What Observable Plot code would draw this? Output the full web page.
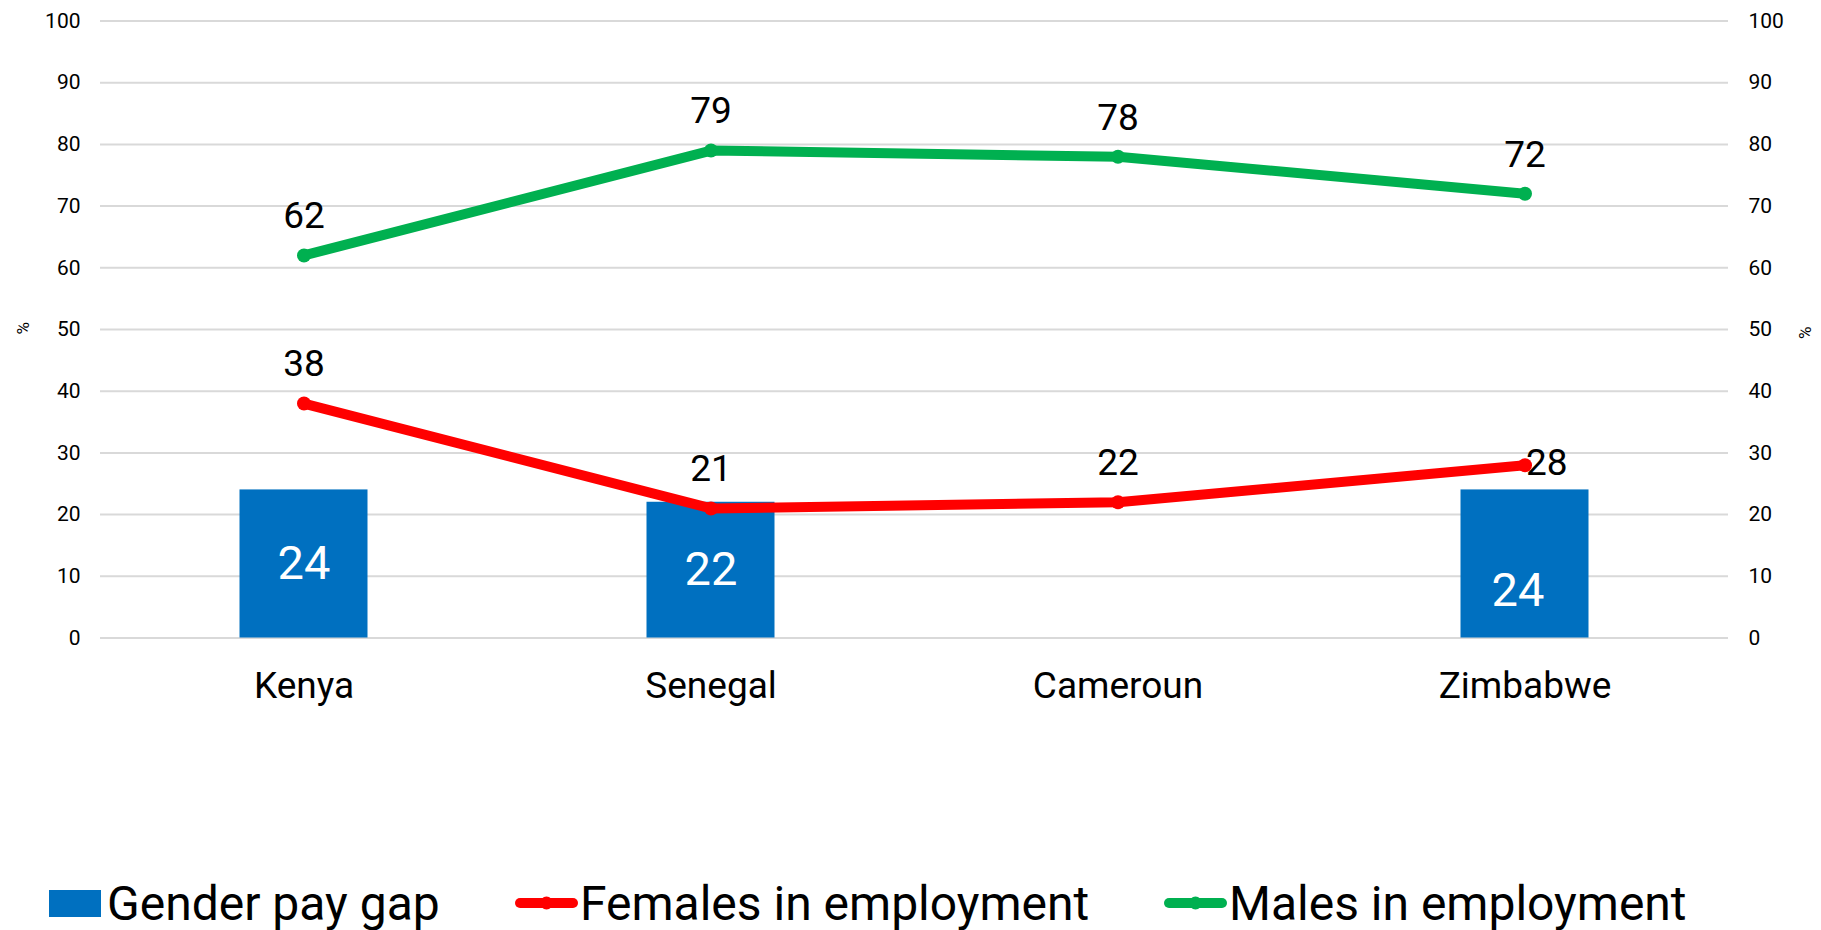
<!DOCTYPE html>
<html><head><meta charset="utf-8">
<script src="https://cdn.jsdelivr.net/npm/d3@7"></script>
<script src="https://cdn.jsdelivr.net/npm/@observablehq/plot@0.6"></script>
<style>
html,body{margin:0;padding:0;background:#fff;overflow:hidden;}
body{width:1821px;height:930px;font-family:Roboto,sans-serif;}
#chart svg{display:block;}
#legend{position:relative;height:80px;width:1821px;}
.item{position:absolute;top:26px;height:54px;display:flex;align-items:center;font-size:48px;color:#000;white-space:nowrap;}
</style></head><body>
<div id="chart"></div>
<div id="legend"></div>
<script>
const countries = ["Kenya", "Senegal", "Cameroun", "Zimbabwe"];
const payGap = [24, 22, null, 24];
const females = [38, 21, 22, 28];
const males = [62, 79, 78, 72];
const yTicks = [0, 10, 20, 30, 40, 50, 60, 70, 80, 90, 100];
const seriesNames = ["Gender pay gap", "Females in employment", "Males in employment"];
const seriesColors = ["#0070C0", "#FF0000", "#00B050"];
const axisTitle = "%";

const rows = countries.map((c, i) => ({country: c, gap: payGap[i], female: females[i], male: males[i]}));
const barRows = rows.filter(d => d.gap != null);
const lastCountry = countries[countries.length - 1];

const W = 1821, H = 850;
const chart = Plot.plot({
  width: W, height: H,
  marginLeft: 100, marginRight: 93, marginTop: 20.5, marginBottom: 212.5,
  style: {fontFamily: "Roboto, sans-serif", color: "#000", background: "#fff"},
  x: {type: "band", domain: countries, padding: 0},
  y: {domain: [0, 100]},
  marks: [
    Plot.ruleY(yTicks, {stroke: "#d9d9d9", strokeWidth: 2}),
    Plot.axisY({anchor: "left", ticks: yTicks, tickSize: 0, tickPadding: 20, fontSize: 21, label: null}),
    Plot.axisY({anchor: "right", ticks: yTicks, tickSize: 0, tickPadding: 20, fontSize: 21, label: null}),
    Plot.text([axisTitle], {frameAnchor: "left", dx: -77, dy: 5, rotate: -90, fontSize: 17, fill: "#000"}),
    Plot.text([axisTitle], {frameAnchor: "right", dx: 77, dy: -3, rotate: -90, fontSize: 17, fill: "#000"}),
    Plot.axisX({tickSize: 0, tickPadding: 34, fontSize: 37, label: null}),
    Plot.barY(barRows, {x: "country", y: "gap", fill: seriesColors[0], insetLeft: 139.5, insetRight: 139.5}),
    Plot.text(barRows.filter(d => d.country !== lastCountry), {x: "country", y: d => d.gap / 2, text: d => String(d.gap), fill: "#fff", fontSize: 47}),
    Plot.text(barRows.filter(d => d.country === lastCountry), {x: "country", y: d => d.gap / 2, text: d => String(d.gap), fill: "#fff", fontSize: 47, dx: -7, dy: 27}),
    Plot.line(rows, {x: "country", y: "female", stroke: seriesColors[1], strokeWidth: 10, strokeLinecap: "round", strokeLinejoin: "round"}),
    Plot.dot(rows, {x: "country", y: "female", fill: seriesColors[1], r: 7}),
    Plot.line(rows, {x: "country", y: "male", stroke: seriesColors[2], strokeWidth: 10, strokeLinecap: "round", strokeLinejoin: "round"}),
    Plot.dot(rows, {x: "country", y: "male", fill: seriesColors[2], r: 7}),
    Plot.text(rows.filter(d => d.country !== lastCountry), {x: "country", y: "female", text: d => String(d.female), dy: -39, fontSize: 37, fill: "#000"}),
    Plot.text(rows.filter(d => d.country === lastCountry), {x: "country", y: "female", text: d => String(d.female), dx: 1, dy: -2, textAnchor: "start", fontSize: 37, fill: "#000"}),
    Plot.text(rows, {x: "country", y: "male", text: d => String(d.male), dy: -39, fontSize: 37, fill: "#000"})
  ]
});
document.getElementById("chart").appendChild(chart);

// Legend (HTML, below the SVG)
const legend = document.getElementById("legend");
const lefts = [49, 515, 1164];
seriesNames.forEach((name, i) => {
  const item = document.createElement("div");
  item.className = "item";
  item.style.left = lefts[i] + "px";
  let sw;
  if (i === 0) {
    sw = `<svg width="52" height="27" style="display:block;margin-right:6px"><rect width="52" height="27" fill="${seriesColors[i]}"/></svg>`;
  } else {
    sw = `<svg width="63" height="20" style="display:block;margin-right:2px"><line x1="5" y1="10" x2="58" y2="10" stroke="${seriesColors[i]}" stroke-width="10" stroke-linecap="round"/><circle cx="31.5" cy="10" r="6.5" fill="${seriesColors[i]}"/></svg>`;
  }
  item.innerHTML = sw + `<span>${name}</span>`;
  legend.appendChild(item);
});
</script>
</body></html>
